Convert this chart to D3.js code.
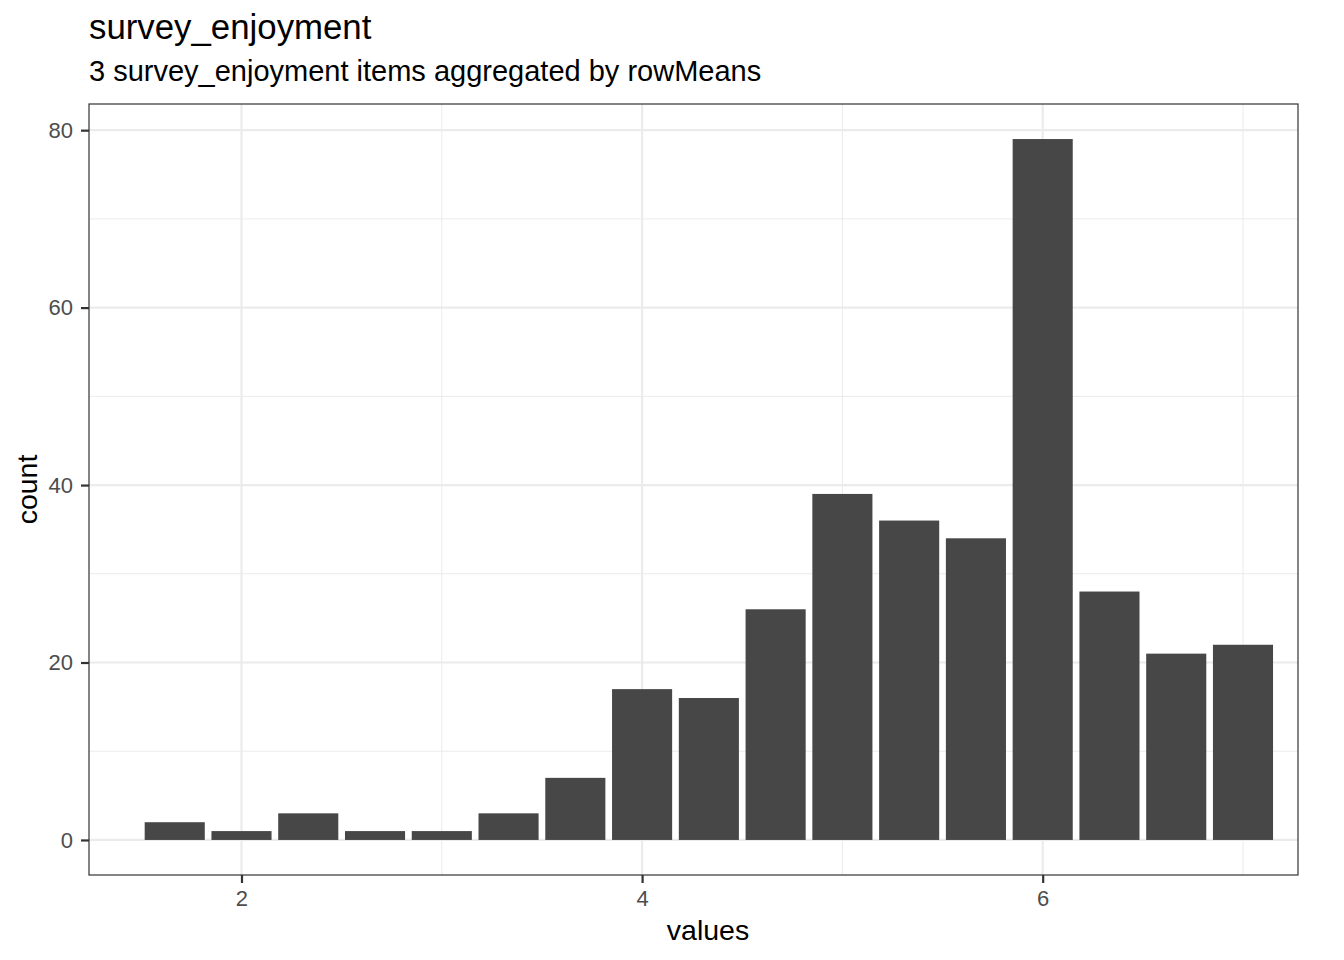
<!DOCTYPE html>
<html>
<head>
<meta charset="utf-8">
<script src="https://cdn.jsdelivr.net/npm/d3@7"></script>
<style>
  body { margin: 0; background: #fff; }
  text { font-family: "Liberation Sans", Arial, sans-serif; }
</style>
</head>
<body>
<div id="chart"></div>
<script>
// histogram bins (rowMeans of 3 items -> steps of 1/3)
const binValues = [5/3, 2, 7/3, 8/3, 3, 10/3, 11/3, 4, 13/3, 14/3, 5, 16/3, 17/3, 6, 19/3, 20/3, 7];
const binCounts = [2, 1, 3, 1, 1, 3, 7, 17, 16, 26, 39, 36, 34, 79, 28, 21, 22];
const xTicks = [2, 4, 6];
const xMinor = [3, 5, 7];
const yTicks = [0, 20, 40, 60, 80];
const yMinor = [10, 30, 50, 70];

const W = 1344, H = 960;
const margin = { top: 104, right: 46, bottom: 85, left: 89 };
const width = W - margin.left - margin.right,
      height = H - margin.top - margin.bottom;

const svg = d3.select("#chart").append("svg")
    .attr("width", W).attr("height", H);

const g = svg.append("g").attr("transform", `translate(${margin.left},${margin.top})`);

const xScale = d3.scaleLinear().domain([1.2387, 7.2746]).range([0, width]);
const yMax = d3.max(binCounts);
const yScale = d3.scaleLinear().domain([-yMax * 0.05, yMax * 1.05]).range([height, 0]);

// grid lines
g.selectAll(".xminor").data(xMinor).join("line")
    .attr("x1", d => xScale(d)).attr("x2", d => xScale(d))
    .attr("y1", 0).attr("y2", height)
    .attr("stroke", "#ebebeb").attr("stroke-width", 1);
g.selectAll(".yminor").data(yMinor).join("line")
    .attr("y1", d => yScale(d)).attr("y2", d => yScale(d))
    .attr("x1", 0).attr("x2", width)
    .attr("stroke", "#ebebeb").attr("stroke-width", 1);
g.selectAll(".xmajor").data(xTicks).join("line")
    .attr("x1", d => xScale(d)).attr("x2", d => xScale(d))
    .attr("y1", 0).attr("y2", height)
    .attr("stroke", "#ebebeb").attr("stroke-width", 2.2);
g.selectAll(".ymajor").data(yTicks).join("line")
    .attr("y1", d => yScale(d)).attr("y2", d => yScale(d))
    .attr("x1", 0).attr("x2", width)
    .attr("stroke", "#ebebeb").attr("stroke-width", 2.2);

// bars
const barW = xScale(0.3) - xScale(0);
g.selectAll("rect.bar").data(binValues.map((v, i) => ({ v, c: binCounts[i] })))
    .join("rect")
    .attr("class", "bar")
    .attr("x", d => xScale(d.v) - barW / 2)
    .attr("width", barW)
    .attr("y", d => yScale(d.c))
    .attr("height", d => yScale(0) - yScale(d.c))
    .attr("fill", "#474747");

// panel border
g.append("rect").attr("width", width).attr("height", height)
    .attr("fill", "none").attr("stroke", "#333333").attr("stroke-width", 1.2);

// axes
const xAxis = g.append("g").attr("transform", `translate(0,${height})`)
    .call(d3.axisBottom(xScale).tickValues(xTicks).tickSize(8).tickPadding(7).tickFormat(d3.format("d")));
const yAxis = g.append("g")
    .call(d3.axisLeft(yScale).tickValues(yTicks).tickSize(8).tickPadding(8).tickFormat(d3.format("d")));
[xAxis, yAxis].forEach(a => {
  a.select(".domain").remove();
  a.selectAll(".tick line").attr("stroke", "#333333").attr("stroke-width", 2.2);
  a.selectAll(".tick text").attr("fill", "#4d4d4d").attr("font-size", 22)
    .attr("font-family", "Liberation Sans, Arial, sans-serif");
});

// axis titles
svg.append("text").attr("x", 708).attr("y", 940)
    .attr("text-anchor", "middle").attr("font-size", 28.5).attr("fill", "#000")
    .text("values");
svg.append("text").attr("transform", `translate(37,${margin.top + height / 2}) rotate(-90)`)
    .attr("text-anchor", "middle").attr("font-size", 28.5).attr("fill", "#000")
    .text("count");

// titles
svg.append("text").attr("x", margin.left).attr("y", 39)
    .attr("font-size", 34.8).attr("fill", "#000").text("survey_enjoyment");
svg.append("text").attr("x", margin.left).attr("y", 81)
    .attr("font-size", 29).attr("fill", "#000").text("3 survey_enjoyment items aggregated by rowMeans");
</script>
</body>
</html>
